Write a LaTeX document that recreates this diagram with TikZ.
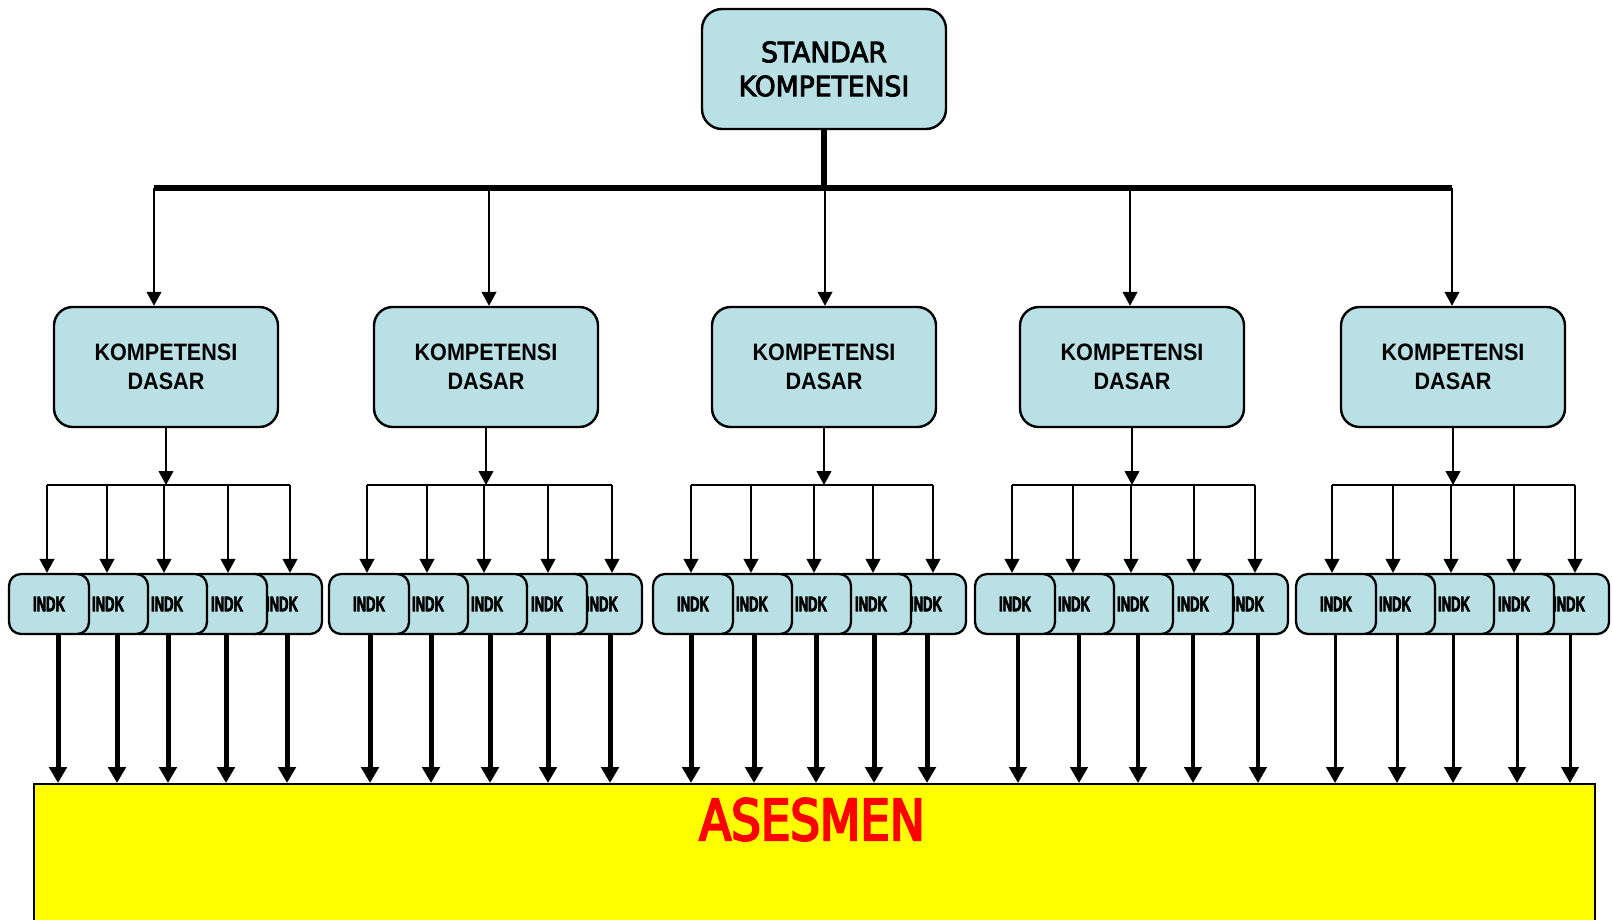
\documentclass[tikz,border=0pt]{standalone}
\usepackage{fontspec}
\setmainfont{Liberation Sans}
\newfontfamily\skfont[FakeStretch=0.95,FakeBold=3]{DejaVu Sans}
\newfontfamily\asfont[FakeStretch=0.83,FakeBold=4]{DejaVu Sans}
\newfontfamily\kdfont[FakeStretch=0.91]{Liberation Sans}
\newfontfamily\indkfont[FakeStretch=0.62,BoldFeatures={FakeBold=3}]{Liberation Sans}
\usetikzlibrary{arrows.meta}
\definecolor{boxfill}{RGB}{185,224,228}
\definecolor{asyellow}{RGB}{255,255,0}
\tikzset{
 pbox/.style={draw=black, fill=boxfill, line width=1.8pt, inner sep=0pt, align=center},
 skbox/.style={pbox, rounded corners=15pt, minimum width=183pt, minimum height=90pt, font=\skfont\fontsize{21}{25.5}\selectfont},
 kdbox/.style={pbox, rounded corners=14pt, minimum width=168pt, minimum height=90pt, font=\kdfont\bfseries\fontsize{17.8}{21.75}\selectfont},
 inbox/.style={pbox, rounded corners=9pt, minimum width=60pt, minimum height=45pt, line width=1.7pt, font=\indkfont\bfseries\fontsize{15.75}{16}\selectfont},
 thickline/.style={line width=4.5pt},
 thinline/.style={line width=1.5pt},
 thinarrow/.style={line width=1.5pt, -{Triangle[width=11pt,length=10.5pt]}},
 bigarrow/.style={-{Triangle[width=13pt,length=12pt]}},
 asbox/.style={draw=black, fill=asyellow, line width=1.5pt, inner sep=0pt, anchor=north west, minimum width=1170.75pt, minimum height=140pt},
 astext/.style={text=red, font=\asfont\fontsize{42.2}{50}\selectfont, anchor=base, inner sep=0pt},
}
% #1 group, #2 left edge, #3 KD centre, #4 arrow x into KD, #5 top arrows, #6 bottom arrows, #7 bottom width
\newcommand\mygroup[7]{%
  \node[kdbox] (kd#1) at (#3,367) {KOMPETENSI\\DASAR};
  \coordinate (ka#1) at (#4,188);
  \draw[thinarrow] (ka#1) -- (ka#1 |- kd#1.north);
  \foreach \i/\o in {5/273,4/218,3/158,2/99,1/40}
    \node[inbox] (in#1-\i) at ({#2+\o},604) {INDK};
  \foreach[count=\i] \x in {#5} {
    \coordinate (s#1-\i) at (\x,485);
    \draw[thinarrow] (s#1-\i) -- (s#1-\i |- in#1-\i.north);
  }
  \draw[thinline] (s#1-1) -- (s#1-5);
  \draw[thinarrow] (kd#1.south) -- (kd#1.south |- s#1-1);
  \foreach[count=\i] \x in {#6} {
    \coordinate (e#1-\i) at (\x,634);
    \draw[bigarrow, line width=#7] (e#1-\i) -- (e#1-\i |- as.north);
  }
}
\begin{document}
\begin{tikzpicture}[x=0.75pt,y=-0.75pt]
\useasboundingbox (0,0) rectangle (1612,920);
\clip (0,0) rectangle (1612,920);
\fill[white] (0,0) rectangle (1612,920);
\node[asbox] (as) at (33,783) {};
\node[astext] (astxt) at (812,840) {ASESMEN};
\node[skbox] (sk) at (824,69) {STANDAR\\KOMPETENSI};
\coordinate (barL) at (154,188);
\coordinate (barR) at (1452,188);
\draw[thickline] (barL) -- (barR);
\draw[thickline] (sk.south) -- (sk.south |- barL);
\mygroup{1}{9}{166}{154}{47,107,164,228,290}{58,117,168,226,287}{3.75pt}
\mygroup{2}{329}{486}{489}{367,427,484,548,612}{370,431,490,548,610}{3.75pt}
\mygroup{3}{653}{824}{825}{691,751,814,873,933}{691,754,816,874,927}{3.75pt}
\mygroup{4}{975}{1132}{1130}{1012,1073,1131,1194,1255}{1018,1079,1138,1193,1258}{2.7pt}
\mygroup{5}{1296}{1453}{1452}{1332,1393,1451,1514,1575}{1335,1397,1453,1517,1570}{2.25pt}
\end{tikzpicture}
\end{document}
